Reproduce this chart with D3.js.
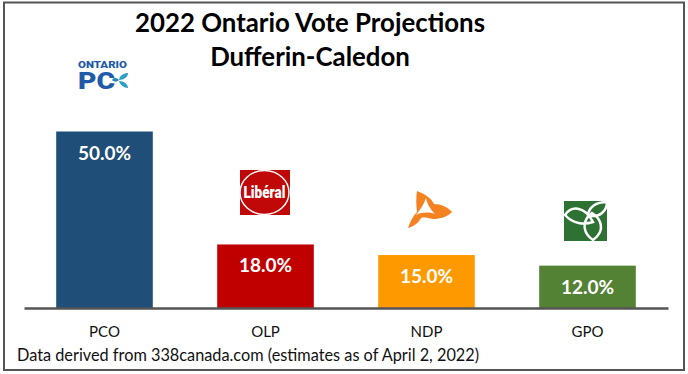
<!DOCTYPE html>
<html>
<head>
<meta charset="utf-8">
<script src="https://d3js.org/d3.v7.min.js"></script>
<style>
body { margin: 0; background: #fff; }
svg { display: block; font-family: Lato, "Open Sans", sans-serif; }
</style>
</head>
<body>
<svg width="688" height="374"></svg>
<script>
const parties = ['PCO', 'OLP', 'NDP', 'GPO'];
const votes = [50.0, 18.0, 15.0, 12.0];
const barColors = ['#1f4e79', '#c00000', '#ff9900', '#548235'];
const titleLines = ['2022 Ontario Vote Projections', 'Dufferin-Caledon'];
const sourceNote = 'Data derived from 338canada.com (estimates as of April 2, 2022)';

const svg = d3.select('svg');
const baseline = 308;

// Frame
svg.append('rect')
    .attr('x', 4).attr('y', 2.5)
    .attr('width', 680).attr('height', 367.5)
    .attr('fill', '#fff')
    .attr('stroke', '#555')
    .attr('stroke-width', 2);

const xScale = d3.scaleBand()
    .domain(parties)
    .range([24, 668])
    .paddingInner(0.4)
    .paddingOuter(0.2);
const yScale = d3.scaleLinear()
    .domain([0, 50])
    .range([baseline, 131.5]);

svg.selectAll('rect.bar')
    .data(parties)
    .join('rect')
    .attr('class', 'bar')
    .attr('x', d => xScale(d))
    .attr('y', (d, i) => yScale(votes[i]))
    .attr('width', xScale.bandwidth())
    .attr('height', (d, i) => baseline - yScale(votes[i]))
    .attr('fill', (d, i) => barColors[i]);

// Value labels
svg.selectAll('text.value')
    .data(parties)
    .join('text')
    .attr('class', 'value')
    .text((d, i) => votes[i].toFixed(1) + '%')
    .attr('x', d => xScale(d) + xScale.bandwidth() / 2)
    .attr('y', (d, i) => yScale(votes[i]) + 28)
    .style('text-anchor', 'middle')
    .style('font-size', '19px')
    .style('font-weight', 700)
    .attr('fill', '#fff');

// Axis
const xAxis = d3.axisBottom(xScale).tickSize(0).tickPadding(18);
const axisG = svg.append('g')
    .attr('transform', `translate(0, ${baseline})`)
    .call(xAxis);
axisG.select('.domain').attr('stroke', '#555').attr('stroke-width', 2.5);
axisG.selectAll('text')
    .style('font-size', '15px')
    .style('font-family', 'Lato, sans-serif')
    .attr('fill', '#111');

// Title
svg.selectAll('text.title')
    .data(titleLines)
    .join('text')
    .attr('class', 'title')
    .text(d => d)
    .attr('x', 310)
    .attr('y', (d, i) => 32 + i * 34)
    .style('text-anchor', 'middle')
    .style('font-size', '25.8px')
    .style('font-weight', 700)
    .attr('fill', '#000');

svg.append('text')
    .text(sourceNote)
    .attr('x', 17)
    .attr('y', 361)
    .style('font-size', '16.3px')
    .attr('fill', '#111');

// Logos
const pc = svg.append('g').style('font-family', 'Roboto, sans-serif');
pc.append('text').text('ONTARIO')
    .attr('x', 78).attr('y', 67.5)
    .style('font-size', '8.5px').style('font-weight', 900)
    .attr('textLength', 49).attr('lengthAdjust', 'spacingAndGlyphs')
    .attr('fill', '#1f5ba8');
pc.append('text').text('PC')
    .attr('x', 78).attr('y', 89)
    .style('font-size', '23px').style('font-weight', 900)
    .attr('textLength', 37).attr('lengthAdjust', 'spacingAndGlyphs')
    .attr('fill', '#1f5ba8');
pc.append('path')
    .attr('d', 'M119,80 C120,75 124,73 128,73 C128,77 124,80 119,80 Z M119,81 C124,81 128,84 128,88 C124,88 120,85 119,81 Z')
    .attr('fill', '#2f9fc4');
pc.append('path')
    .attr('d', 'M112,80 C114,77 117,78 119,80 C117,82 114,82 112,80 Z')
    .attr('fill', '#1f86b5');

const lib = svg.append('g').style('font-family', 'Roboto, sans-serif');
lib.append('rect')
    .attr('x', 240).attr('y', 170)
    .attr('width', 50).attr('height', 45)
    .attr('fill', '#c00808');
lib.append('ellipse')
    .attr('cx', 264.5).attr('cy', 192.5)
    .attr('rx', 24.5).attr('ry', 22)
    .attr('fill', 'none').attr('stroke', '#fff').attr('stroke-width', 1.5);
lib.append('text').text('Libéral')
    .attr('x', 264.5).attr('y', 198)
    .style('text-anchor', 'middle')
    .style('font-size', '16px').style('font-weight', 900)
    .attr('fill', '#fff')
    .attr('textLength', 42).attr('lengthAdjust', 'spacingAndGlyphs');

const ndp = svg.append('g');
ndp.append('path')
    .attr('d', 'M417,191 C425,194 431,198 434,204 C441,204 448,207 452,212 C447,217 440,219 433,219 C428,218 424,217 421,218 C419,222 415,226 408,228 C410,222 413,216 417,212 C416,205 416,197 417,191 Z')
    .attr('fill', '#f58220');
ndp.append('path')
    .attr('d', 'M426,198 C427,204 431,210 435,214 C429,212 422,212 416,215 C420,210 424,204 426,198 Z')
    .attr('fill', '#fff');

const gpo = svg.append('g');
gpo.append('rect')
    .attr('x', 564).attr('y', 201)
    .attr('width', 43).attr('height', 40)
    .attr('fill', '#2e7233');
gpo.append('path')
    .attr('d', 'M565,215 C571,206 584,205 593,222 C584,225 573,224 565,215 Z M588,215 C589,207 596,202 607,202 C607,210 600,219 588,215 Z M592,213 C600,218 607,230 593,240 C584,234 580,222 592,213 Z')
    .attr('fill', 'none').attr('stroke', '#fff').attr('stroke-width', 2.5);
</script>
</body>
</html>
